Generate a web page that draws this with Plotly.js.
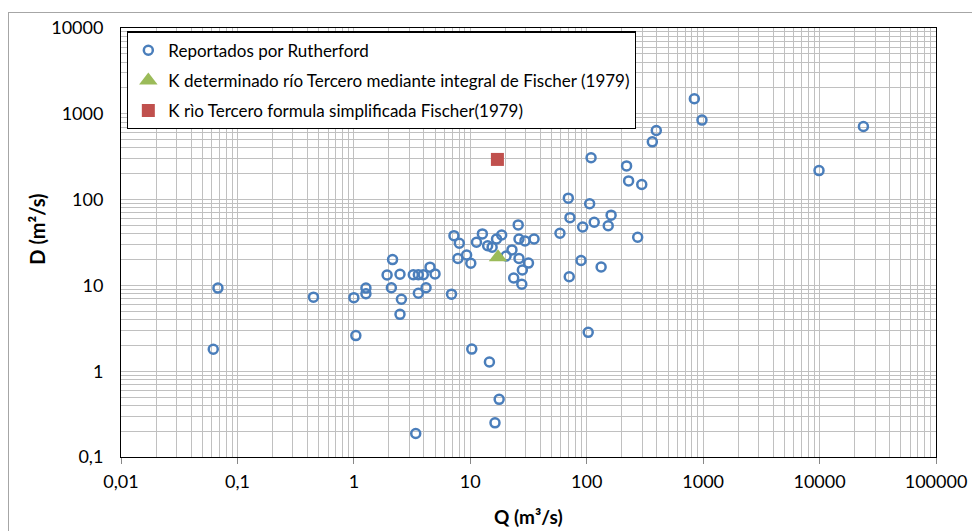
<!DOCTYPE html>
<html>
<head>
<meta charset="utf-8">
<script src="https://cdn.plot.ly/plotly-3.0.1.min.js"></script>
<style>
  html, body { margin: 0; padding: 0; background: #ffffff; overflow: hidden; }
  #wrap { position: relative; width: 972px; height: 531px; overflow: hidden; }
  #chart { width: 972px; height: 531px; }
  #frame { position: absolute; left: 8px; top: 12px; width: 1200px; height: 800px;
           border-left: 1px solid #A6A6A6; border-top: 1px solid #A6A6A6; pointer-events: none; }
</style>
</head>
<body>
<div id="wrap">
  <div id="chart"></div>
  <div id="frame"></div>
</div>
<script>
// Reportados por Rutherford
const rutherfordQ = [0.068, 0.062, 0.45, 1.0, 1.04, 1.27, 1.27, 2.15, 1.93, 2.49, 2.1, 2.56, 2.49,
  3.24, 3.58, 3.95, 4.51, 4.98, 3.58, 4.17, 6.9, 7.24, 8.05, 7.83, 9.3, 10.1, 11.3, 12.7, 14.1,
  15.4, 16.8, 18.6, 25.8, 26.2, 29.5, 35.3, 22.8, 20.3, 26.2, 31.6, 28, 23.6, 27.7, 10.3, 14.6,
  17.7, 16.3, 3.4, 58.9, 69.5, 106, 71.8, 92.3, 116, 162, 153, 89.4, 70.8, 133, 103, 274, 109,
  220, 229, 297, 366, 396, 840, 977, 9890, 23800];
const rutherfordD = [9.3, 1.8, 7.3, 7.2, 2.6, 9.3, 8.0, 20, 13.2, 13.5, 9.4, 6.9, 4.6,
  13.3, 13.3, 13.3, 16.3, 13.6, 8.1, 9.4, 7.9, 38, 31, 20.6, 22.6, 18.1, 31.8, 39.8, 29,
  27.9, 34.7, 38.7, 50.7, 34.7, 33, 34.7, 25.9, 22, 20.6, 18.2, 15.1, 12.2, 10.3, 1.81, 1.28,
  0.47, 0.25, 0.188, 40.5, 104, 89.5, 61.6, 48, 54.5, 65.9, 49.5, 19.5, 12.6, 16.4, 2.84, 36.4, 307,
  247, 165, 150, 471, 638, 1497, 844, 218, 711];

// K río Tercero
const integralQ = [17.3];
const integralD = [21.3];
const simplifiedQ = [17.1];
const simplifiedD = [294];

const seriesNames = [
  'Reportados por Rutherford',
  'K determinado río Tercero mediante integral de Fischer (1979)',
  'K rìo Tercero formula simplificada Fischer(1979)'
];

const xTickVals = [0.01, 0.1, 1, 10, 100, 1000, 10000, 100000];
const xTickText = ['0,01', '0,1', '1', '10', '100', '1000', '10000', '100000'];
const yTickVals = [0.1, 1, 10, 100, 1000, 10000];
const yTickText = ['0,1', '1', '10', '100', '1000', '10000'];
const xTitle = '<b>Q (m³/s)</b>';
const yTitle = '<b>D (m²/s)</b>';

// minor gridline positions (2..9 within each decade)
function minorVals(lo, hi) {
  const out = [];
  for (let e = lo; e < hi; e++) for (let k = 2; k <= 9; k++) out.push(k * Math.pow(10, e));
  return out;
}

const FONT = 'Lato, "Open Sans", sans-serif';
const GRID = '#C0C0C0';

const traces = [
  {
    x: rutherfordQ, y: rutherfordD, type: 'scatter', mode: 'markers',
    name: seriesNames[0], legendgroup: 'g1',
    marker: { symbol: 'circle-open', size: 9, color: '#4A7EBB', line: { width: 2.5, color: '#4A7EBB' } }
  },
  {
    x: integralQ, y: integralD, type: 'scatter', mode: 'markers',
    name: seriesNames[1], legendgroup: 'g2',
    marker: { symbol: 'triangle-up', size: 16, color: '#9BBB59', line: { width: 0 } }
  },
  {
    x: simplifiedQ, y: simplifiedD, type: 'scatter', mode: 'markers',
    name: seriesNames[2], legendgroup: 'g3',
    marker: { symbol: 'square', size: 13, color: '#C0504D', line: { width: 0 } }
  }
];

const layout = {
  width: 972, height: 531,
  margin: { l: 121, r: 36, t: 28, b: 74 },
  paper_bgcolor: 'rgba(255,255,255,0)', plot_bgcolor: '#ffffff',
  font: { family: FONT, color: '#000000', size: 18 },
  showlegend: true,
  legend: {
    x: 0.0074, y: 0.992, xanchor: 'left', yanchor: 'top',
    bgcolor: '#ffffff', bordercolor: '#000000', borderwidth: 1.3,
    font: { family: FONT, size: 17, color: '#000000' },
    tracegroupgap: 5, traceorder: 'grouped'
  },
  xaxis: {
    type: 'log', range: [-2, 5],
    tickmode: 'array', tickvals: xTickVals, ticktext: xTickText,
    ticks: 'outside', ticklen: 6, tickcolor: '#888888', tickwidth: 1,
    ticklabelstandoff: 2,
    showgrid: true, gridcolor: GRID, gridwidth: 1,
    minor: { tickmode: 'array', tickvals: minorVals(-2, 5), showgrid: true, gridcolor: GRID, gridwidth: 1, ticks: '' },
    showline: true, linecolor: '#000000', linewidth: 1, mirror: true,
    zeroline: false,
    tickfont: { family: FONT, size: 18, color: '#000000' }
  },
  yaxis: {
    type: 'log', range: [-1, 4],
    tickmode: 'array', tickvals: yTickVals, ticktext: yTickText,
    ticks: '', ticklabelstandoff: 13,
    showgrid: true, gridcolor: GRID, gridwidth: 1,
    minor: { tickmode: 'array', tickvals: minorVals(-1, 4), showgrid: true, gridcolor: GRID, gridwidth: 1, ticks: '' },
    showline: true, linecolor: '#000000', linewidth: 1, mirror: true,
    zeroline: false,
    tickfont: { family: FONT, size: 18, color: '#000000' }
  },
  annotations: [
    {
      xref: 'paper', yref: 'paper', x: 0.5, y: -0.139, xanchor: 'center', yanchor: 'middle',
      text: xTitle, showarrow: false,
      font: { family: FONT, size: 19, color: '#000000' }
    },
    {
      xref: 'paper', yref: 'paper', x: -0.103, y: 0.53, xanchor: 'center', yanchor: 'middle',
      text: yTitle, textangle: -90, showarrow: false,
      font: { family: FONT, size: 20, color: '#000000' }
    }
  ]
};

Plotly.newPlot('chart', traces, layout, { displayModeBar: false, staticPlot: true });
</script>
</body>
</html>
